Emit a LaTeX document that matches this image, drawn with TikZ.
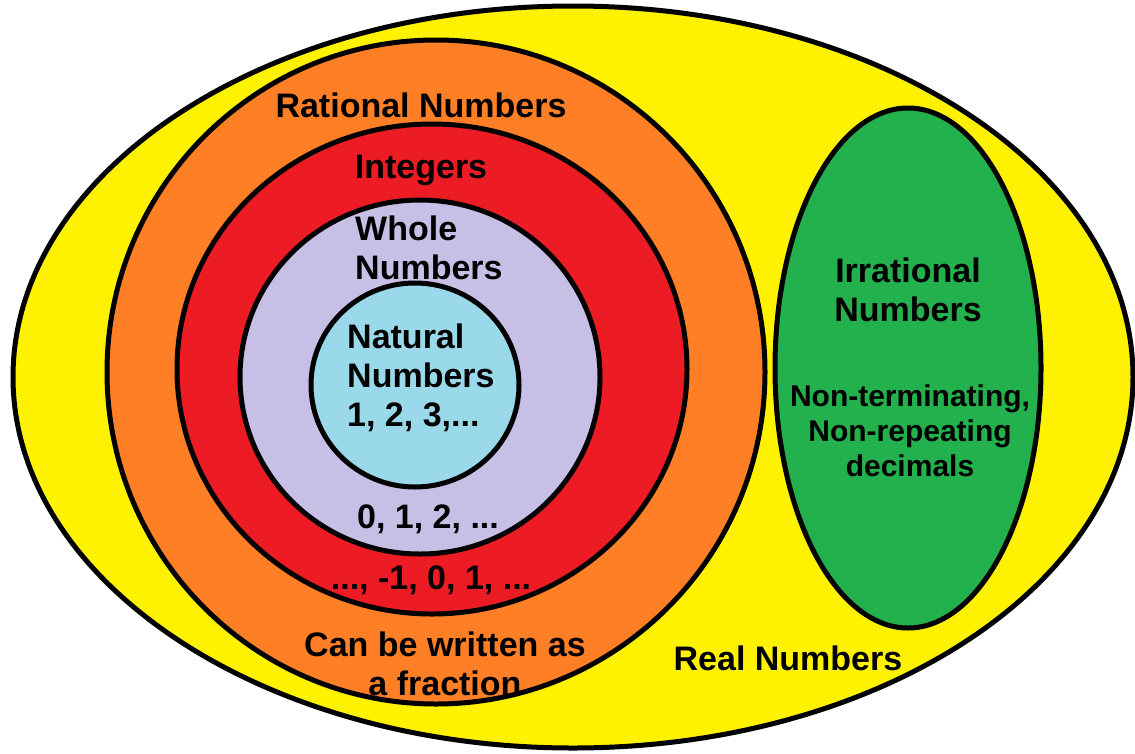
\documentclass[tikz,border=0pt]{standalone}
\usepackage{fontspec}
\setmainfont{Liberation Sans}
\usepackage{tikz}

\definecolor{realyellow}{HTML}{FFF200}
\definecolor{ratorange}{HTML}{FF7F27}
\definecolor{intred}{HTML}{ED1C24}
\definecolor{wholelav}{HTML}{C8BFE7}
\definecolor{natcyan}{HTML}{99D9EA}
\definecolor{irrgreen}{HTML}{22B14C}

\begin{document}
\begin{tikzpicture}[
    x=1pt, y=-1pt,
    set/.style={draw=black, line width=5pt},
    lbl/.style={inner sep=0pt, align=center, font=\fontsize{34}{39}\selectfont\bfseries},
    small/.style={inner sep=0pt, align=center, font=\fontsize{30}{35}\selectfont\bfseries},
  ]
  \useasboundingbox (0,0) rectangle (1135,753);

  % --- nested sets ---
  \filldraw[set, fill=realyellow] (573,377) ellipse [x radius=560, y radius=371];
  \filldraw[set, fill=ratorange] (436,372) ellipse [x radius=329, y radius=332];
  \filldraw[set, fill=intred] (432,369) ellipse [x radius=255, y radius=245];
  \filldraw[set, fill=wholelav] (420,377) ellipse [x radius=180, y radius=177];
  \filldraw[set, fill=natcyan] (415,385) ellipse [x radius=104, y radius=102];
  \filldraw[set, fill=irrgreen] (908,368) ellipse [x radius=133, y radius=260];

  % --- labels ---
  \node[lbl] (rat) at (421,105) {Rational Numbers};
  \node[lbl] (int) at (421,170) {Integers};
  \node[lbl, align=left, anchor=west] (whole) at (355,248) {Whole\\Numbers};
  \node[lbl, align=left, anchor=west] (nat) at (347,378) {Natural\\Numbers\\1, 2, 3,...};
  \node[lbl] (wholeex) at (428,519) {0, 1, 2, ...};
  \node[lbl] (intex) at (431,580) {..., -1, 0, 1, ...};
  \node[lbl] (ratex) at (445,664) {Can be written as\\a fraction};
  \node[lbl] (real) at (788,658) {Real Numbers};
  \node[lbl] (irr) at (908,290) {Irrational\\Numbers};
  \node[small] (irrex) at (910,431) {Non-terminating,\\Non-repeating\\decimals};
\end{tikzpicture}
\end{document}
